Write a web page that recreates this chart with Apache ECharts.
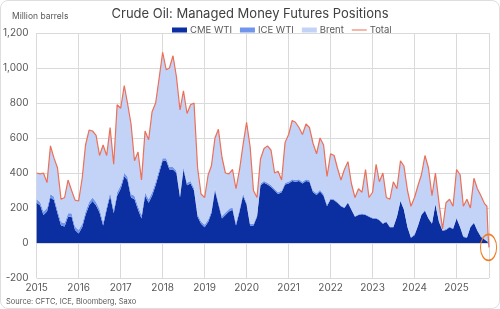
<!DOCTYPE html>
<html>
<head>
<meta charset="UTF-8">
<title>Crude Oil: Managed Money Futures Positions</title>
<script src="https://cdn.jsdelivr.net/npm/echarts@6/dist/echarts.min.js"></script>
<style>
    html, body { margin: 0; padding: 0; background: #fff; }
    #wrap { position: relative; width: 500px; height: 309px; }
    #main { width: 500px; height: 309px; }
    #frame { position: absolute; left: 0; top: 0; width: 500px; height: 309px; box-sizing: border-box;
             border: 1px solid #dedede; border-radius: 8px; pointer-events: none; }
</style>
</head>
<body>
<div id="wrap">
    <div id="main"></div>
    <div id="frame"></div>
</div>
<script type="text/javascript">
    // monthly readings (1st of month), Jan 2015 - Sep 2025, plus the last weeks
    var dates = [];
    for (var y = 2015; y <= 2025; y++) {
        for (var m = 1; m <= 12; m++) {
            if (y == 2025 && m > 9) break;
            dates.push(y + '-' + (m < 10 ? '0' : '') + m + '-01');
        }
    }
    dates.push('2025-09-22', '2025-10-01', '2025-10-10');

    // million barrels
    var cmeWti = [
        230, 215, 160, 180, 260, 245, 170, 100, 95, 150, 150, 75,
        55, 90, 160, 215, 240, 215, 175, 100, 190, 270, 170, 270,
        310, 380, 360, 260, 250, 190, 140, 270, 230, 270, 330, 400,
        470, 470, 420, 420, 400, 260, 420, 330, 340, 300, 150, 110,
        90, 120, 170, 300, 220, 140, 160, 180, 190, 100, 180, 270,
        220, 100, 100, 150, 330, 345, 335, 320, 300, 280, 290, 335,
        340, 355, 350, 355, 340, 355, 350, 290, 275, 295, 270, 210,
        250, 245, 230, 210, 200, 230, 190, 150, 160, 165, 160, 150,
        140, 140, 130, 110, 120, 90, 90, 150, 240, 190, 90, 30,
        45, 100, 160, 185, 140, 110, 220, 120, 70, 75, 90, 80,
        140, 90, 35, 30, 90, 115, 70, 35, 20, 10, 5, 20
    ];
    var iceWti = [
        20, 20, 20, 20, 20, 20, 20, 20, 20, 20, 20, 20,
        20, 20, 20, 20, 20, 20, 20, 20, 20, 20, 20, 20,
        20, 20, 20, 20, 20, 20, 20, 20, 20, 20, 20, 20,
        15, 15, 15, 15, 15, 15, 15, 15, 15, 15, 15, 15,
        15, 15, 15, 15, 15, 15, 15, 15, 15, 15, 15, 15,
        10, 10, 10, 10, 10, 10, 10, 10, 10, 10, 10, 10,
        10, 10, 10, 10, 10, 10, 10, 10, 10, 10, 10, 10,
        5, 5, 5, 5, 5, 5, 5, 5, 5, 5, 5, 5,
        5, 5, 5, 5, 5, 5, 5, 5, 5, 5, 5, 5,
        5, 5, 5, 5, 5, 5, 5, 5, 5, 5, 5, 5,
        5, 5, 5, 5, 5, 5, 5, 5, 5, 0, 0, -15
    ];
    var brent = [
        150, 160, 220, 145, 275, 220, 240, 130, 145, 190, 130, 150,
        165, 260, 380, 410, 380, 380, 305, 440, 290, 370, 260, 500,
        440, 500, 420, 400, 200, 310, 200, 350, 340, 460, 450, 520,
        605, 505, 565, 635, 535, 485, 435, 395, 435, 485, 265, 155,
        155, 255, 255, 285, 415, 335, 225, 200, 215, 195, 225, 275,
        460, 440, 190, 100, 140, 185, 210, 200, 90, 120, 60, 230,
        270, 335, 330, 295, 270, 315, 300, 270, 225, 295, 280, 160,
        255, 250, 195, 145, 215, 230, 145, 105, 145, 120, 255, 105,
        145, 305, 215, 285, 135, 155, 255, 155, 225, 245, 205, 175,
        210, 225, 225, 310, 285, 155, 175, 105, 5, 150, 155, 125,
        275, 295, 170, 215, 105, 250, 235, 230, 200, 200, 55, -30
    ];
    var total = [
        400, 395, 400, 345, 555, 485, 430, 250, 260, 360, 300, 245,
        240, 370, 560, 645, 640, 615, 500, 560, 500, 660, 450, 790,
        770, 900, 800, 680, 470, 520, 360, 640, 590, 750, 800, 940,
        1090, 990, 1000, 1070, 950, 760, 870, 740, 790, 800, 430, 280,
        260, 390, 440, 600, 650, 490, 400, 395, 420, 310, 420, 560,
        690, 550, 300, 260, 480, 540, 555, 530, 400, 410, 360, 575,
        620, 700, 690, 660, 620, 680, 660, 570, 510, 600, 560, 380,
        510, 500, 430, 360, 420, 465, 340, 260, 310, 290, 420, 260,
        290, 450, 350, 400, 260, 250, 350, 310, 470, 440, 300, 210,
        260, 330, 390, 500, 430, 270, 400, 230, 80, 230, 250, 210,
        420, 390, 210, 250, 200, 370, 310, 270, 225, 210, 60, -25
    ];
    var yearLabelFmt = '{yyyy}';

    var font = 'Inter, "Noto Sans", sans-serif';
    var textGrey = '#595959';
    var gridGrey = '#dadada';

    function pairs(arr) {
        return dates.map(function (d, i) { return [d, arr[i]]; });
    }
    function areaSeries(name, arr, color) {
        return {
            name: name,
            type: 'line',
            stack: 'mm',
            data: pairs(arr),
            symbol: 'none',
            lineStyle: { width: 0 },
            itemStyle: { color: color },
            areaStyle: { color: color, opacity: 1 },
            emphasis: { disabled: true },
            z: 2
        };
    }

    var myChart = echarts.init(document.getElementById('main'));
    var YEAR = 365 * 24 * 3600 * 1000;

    myChart.setOption({
        animation: false,
        textStyle: { fontFamily: font },
        title: {
            text: 'Crude Oil: Managed Money Futures Positions',
            left: 'center',
            top: 3,
            textStyle: { fontFamily: font, fontSize: 13, fontWeight: 'normal', color: '#404040' }
        },
        legend: {
            left: 167,
            top: 20,
            itemWidth: 15,
            itemHeight: 5,
            itemGap: 8,
            textStyle: { fontFamily: font, fontSize: 9.5, color: textGrey, padding: [0, 0, 0, -2] },
            data: [
                { name: 'CME WTI', icon: 'rect' },
                { name: 'ICE WTI', icon: 'rect' },
                { name: 'Brent', icon: 'rect' },
                { name: 'Total', icon: 'path://M0,0 L30,0 L30,2 L0,2 Z' }
            ]
        },
        grid: { left: 32, right: 11, top: 33, bottom: 31 },
        xAxis: {
            type: 'time',
            min: '2015-01-01',
            max: '2025-10-10',
            minInterval: YEAR,
            maxInterval: YEAR + 2 * 24 * 3600 * 1000,
            axisLine: { show: false },
            axisTick: { show: false },
            splitLine: { show: true, lineStyle: { color: gridGrey, width: 1 } },
            axisLabel: {
                formatter: yearLabelFmt,
                color: textGrey,
                fontSize: 10,
                fontFamily: font,
                margin: 5,
                showMaxLabel: false
            }
        },
        yAxis: {
            type: 'value',
            min: -200,
            max: 1200,
            interval: 200,
            axisLine: { show: false },
            axisTick: { show: false },
            splitLine: { lineStyle: { color: gridGrey, width: 1 } },
            axisLabel: {
                color: textGrey,
                fontSize: 10,
                fontFamily: font,
                margin: 8,
                formatter: function (v) { return v.toLocaleString('en-US'); }
            }
        },
        series: [
            areaSeries('CME WTI', cmeWti, '#0b2fa0'),
            areaSeries('ICE WTI', iceWti, '#6f95ec'),
            areaSeries('Brent', brent, '#c3d2f7'),
            {
                name: 'Total',
                type: 'line',
                data: pairs(total),
                symbol: 'none',
                lineStyle: { color: '#ec6f56', width: 1.2 },
                itemStyle: { color: '#ec6f56' },
                emphasis: { disabled: true },
                z: 5
            }
        ],
        graphic: [
            {
                id: 'unit',
                type: 'text', left: 12, top: 12,
                style: { text: 'Million barrels', fontSize: 8.5, fontFamily: font, fill: textGrey }
            },
            {
                id: 'source',
                type: 'text', left: 6, top: 298,
                style: { text: 'Source: CFTC, ICE, Bloomberg, Saxo', fontSize: 7.5, fontFamily: font, fill: textGrey }
            }
        ]
    });

    // orange ring round the latest readings
    var pt = myChart.convertToPixel({ gridIndex: 0 }, ['2025-10-06', -25]);
    myChart.setOption({
        graphic: [
            {
                id: 'ring',
                type: 'circle',
                x: pt[0], y: pt[1],
                scaleX: 0.62,
                shape: { cx: 0, cy: 0, r: 13 },
                style: { fill: 'none', stroke: '#f07c22', lineWidth: 1.6 },
                z: 10
            }
        ]
    });
</script>
</body>
</html>
